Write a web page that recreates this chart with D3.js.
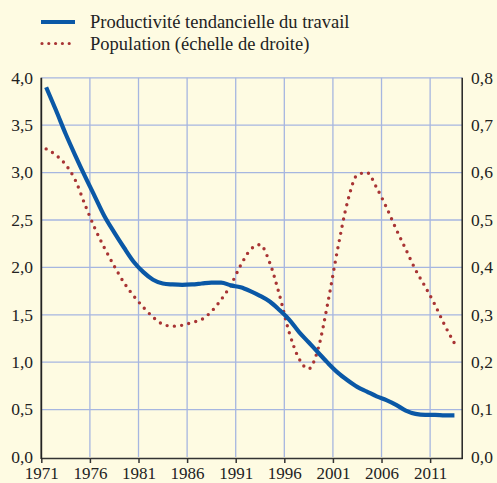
<!DOCTYPE html>
<html>
<head>
<meta charset="utf-8">
<script src="https://cdn.jsdelivr.net/npm/d3@7"></script>
<style>
  body { margin: 0; background: #fefbe2; }
  svg text { font-family: "Liberation Serif", "Times New Roman", Times, "DejaVu Serif", serif; }
</style>
</head>
<body>
<div id="chart"></div>
<script>
// annual data, plotted at mid-year
const years = d3.range(1971, 2014);

const productivite = [
    3.90, 3.66, 3.41, 3.18, 2.96, 2.75, 2.54, 2.37, 2.21, 2.06,
    1.95, 1.87, 1.83, 1.82, 1.815, 1.82, 1.83, 1.84, 1.84, 1.81,
    1.79, 1.75, 1.70, 1.64, 1.55, 1.45, 1.32, 1.21, 1.10, 0.99,
    0.89, 0.81, 0.74, 0.69, 0.64, 0.60, 0.55, 0.49, 0.455, 0.445,
    0.445, 0.44, 0.44
];

const population = [
    0.650, 0.637, 0.617, 0.584, 0.532, 0.483, 0.441, 0.403, 0.368, 0.340,
    0.316, 0.295, 0.280, 0.276, 0.278, 0.284, 0.290, 0.307, 0.332, 0.363,
    0.404, 0.437, 0.448, 0.410, 0.342, 0.263, 0.208, 0.186, 0.230, 0.328,
    0.440, 0.538, 0.595, 0.600, 0.568, 0.527, 0.481, 0.438, 0.395, 0.359,
    0.321, 0.278, 0.240
];

const yearTicks = [1971, 1976, 1981, 1986, 1991, 1996, 2001, 2006, 2011];
const leftTicks = [0, 0.5, 1, 1.5, 2, 2.5, 3, 3.5, 4];
const rightTicks = [0, 0.1, 0.2, 0.3, 0.4, 0.5, 0.6, 0.7, 0.8];

const legendLabels = ["Productivité tendancielle du travail", "Population (échelle de droite)"];

const width = 497, height = 483;
const blue = "#0a58a6", red = "#a83434", grid = "#a6b6e0";

const svg = d3.select("#chart").append("svg")
    .attr("width", width)
    .attr("height", height);

let x = d3.scaleLinear().domain([1971, 2014.3]).range([41.3, 462.2]);
let yLeft = d3.scaleLinear().domain([0, 4]).range([457, 77.8]);
let yRight = d3.scaleLinear().domain([0, 0.8]).range([457, 77.8]);

const comma = d => d3.format(".1f")(d).replace(".", ",");

// grid
svg.append("g")
    .selectAll("line")
    .data(leftTicks.slice(1))
    .join("line")
        .attr("x1", x.range()[0]).attr("x2", x.range()[1])
        .attr("y1", d => yLeft(d)).attr("y2", d => yLeft(d))
        .attr("stroke", grid).attr("stroke-width", 1.3);

svg.append("g")
    .selectAll("line")
    .data(yearTicks.slice(1))
    .join("line")
        .attr("x1", d => x(d)).attr("x2", d => x(d))
        .attr("y1", yLeft(4)).attr("y2", yLeft(0))
        .attr("stroke", grid).attr("stroke-width", 1.3);

// series
let line = d3.line().curve(d3.curveMonotoneX);

svg.append("path")
    .datum(years.map((yr, i) => [x(yr + 0.5), yRight(population[i])]))
    .attr("d", line)
    .attr("fill", "none")
    .attr("stroke", red)
    .attr("stroke-width", 3.4)
    .attr("stroke-linecap", "round")
    .attr("stroke-dasharray", "0 7.3");

svg.append("path")
    .datum(years.map((yr, i) => [x(yr + 0.5), yLeft(productivite[i])]))
    .attr("d", line)
    .attr("fill", "none")
    .attr("stroke", blue)
    .attr("stroke-width", 4.2);

// axes
svg.append("g")
    .attr("transform", `translate(0,${yLeft(0) + 1})`)
    .call(d3.axisBottom(x).tickValues(yearTicks).tickFormat(d3.format("d")).tickSizeInner(5).tickSizeOuter(0).tickPadding(4))
    .call(g => g.attr("font-family", null))
    .call(g => g.select(".domain").attr("stroke", "#333").attr("stroke-width", 1.5))
    .call(g => g.selectAll(".tick line").attr("stroke", "#333").attr("stroke-width", 1.5))
    .call(g => g.selectAll("text").attr("font-size", 17).attr("fill", "#222"));

svg.append("line")
    .attr("x1", x.range()[0]).attr("x2", x.range()[0])
    .attr("y1", yLeft(4)).attr("y2", yLeft(0) + 2)
    .attr("stroke", "#222").attr("stroke-width", 1.8);

svg.append("line")
    .attr("x1", x.range()[1]).attr("x2", x.range()[1])
    .attr("y1", yLeft(4)).attr("y2", yLeft(0) + 2)
    .attr("stroke", "#222").attr("stroke-width", 1.5);

svg.append("g")
    .selectAll("text")
    .data(leftTicks)
    .join("text")
        .attr("x", 33)
        .attr("y", d => yLeft(d))
        .attr("dy", "0.33em")
        .attr("text-anchor", "end")
        .attr("font-size", 17.5)
        .attr("fill", "#222")
        .text(comma);

svg.append("g")
    .selectAll("text")
    .data(rightTicks)
    .join("text")
        .attr("x", 471)
        .attr("y", d => yRight(d))
        .attr("dy", "0.33em")
        .attr("font-size", 17.5)
        .attr("fill", "#222")
        .text(comma);

// legend
svg.append("line")
    .attr("x1", 41).attr("x2", 75)
    .attr("y1", 22).attr("y2", 22)
    .attr("stroke", blue).attr("stroke-width", 4.2);

svg.append("line")
    .attr("x1", 42).attr("x2", 76)
    .attr("y1", 43.5).attr("y2", 43.5)
    .attr("stroke", red).attr("stroke-width", 3.2)
    .attr("stroke-linecap", "round")
    .attr("stroke-dasharray", "0 6.8");

svg.append("g")
    .selectAll("text")
    .data(legendLabels)
    .join("text")
        .attr("x", 90)
        .attr("y", (d, i) => 28 + i * 21.5)
        .attr("font-size", 18.5)
        .attr("fill", "#222")
        .text(d => d);
</script>
</body>
</html>
